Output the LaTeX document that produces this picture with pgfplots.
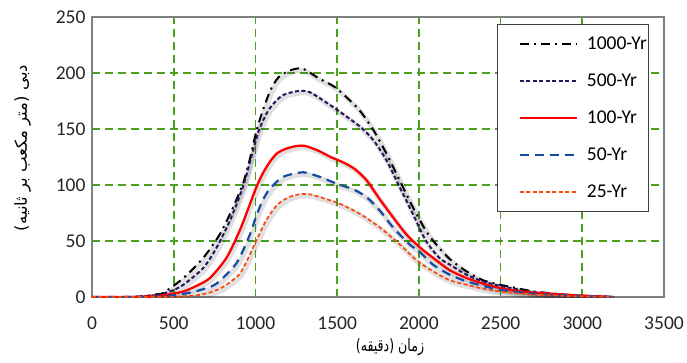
\documentclass[border=0pt]{standalone}
\usepackage{pgfplots}
\pgfplotsset{compat=1.18}
\usepackage{pgfplotstable}
\usepackage{fontspec}
\setmainfont{Carlito}
\newfontfamily\arabicfont[Script=Arabic]{DejaVu Sans}
\newfontfamily\arabicnarrow[Script=Arabic, FakeStretch=0.74]{DejaVu Sans}
\TeXXeTstate=1
\definecolor{gridgreen}{RGB}{75,160,30}
\definecolor{navyp}{RGB}{40,20,95}
\definecolor{blue50}{RGB}{20,75,165}
\definecolor{orng}{RGB}{255,70,10}

\pgfplotstableread{
x y
0 0
200 0
300 0.5
400 2.5
440 4
560 17
681 35
782 56
863 80
923 101
964 122
1004 147
1044 166
1090 184
1140 196
1206 202
1286 204
1390 195
1480 188
1560 178
1641 166
1722 149
1802 128
1883 104
1964 80
2044 59
2100 48
2188 34
2290 23
2392 15
2494 11
2596 8
2698 5
2800 3.5
2902 2
3000 1.2
3106 0.5
3187 0
}\tA

\pgfplotstableread{
x y
0 0
200 0
300 0.3
400 2
480 5
560 11
681 26
762 44
843 68
923 98
984 130
1024 150
1085 168
1165 180
1266 184
1330 183
1399 177
1520 165
1641 152
1722 140
1802 122
1883 98
1964 74
2044 50
2125 35
2188 29
2290 20
2392 14
2494 10
2596 7
2698 4.5
2800 3
2902 1.8
3000 1
3106 0.4
3187 0
}\tB

\pgfplotstableread{
x y
0 0
200 0
300 0.2
400 1
480 2.5
560 5
640 10
722 17
823 35
903 59
964 82
1000 96
1040 109
1085 120
1130 128
1180 132
1240 134.5
1300 135
1379 131
1460 125
1540 120
1610 114
1681 104
1762 87
1843 71
1923 56
2000 45
2086 35
2188 24
2290 17
2392 12
2494 8
2596 5.5
2698 4
2800 3
2902 2
3000 1.2
3100 0.6
3187 0
}\tC

\pgfplotstableread{
x y
0 0
300 0
400 0.5
500 1.5
601 4
680 7
762 12
883 30
964 55
1000 70
1040 85
1085 96
1165 107
1266 111
1310 111
1399 107
1500 101
1601 96
1681 89
1762 77
1843 62
1943 47
2000 41
2086 29
2188 20
2290 14
2392 10
2494 6.5
2596 4.5
2698 3
2800 2
2902 1.3
3000 0.8
3100 0.4
3187 0
}\tD

\pgfplotstableread{
x y
0 0
400 0
500 0.3
641 1.5
720 4
802 9
900 20
950 33
1004 50
1064 68
1120 80
1165 86
1230 90.5
1290 92
1340 91.5
1420 88
1520 83
1641 74
1762 62
1883 47
1984 33
2086 23
2188 15
2290 11
2392 7.5
2494 5
2596 3.5
2698 2
2800 1.5
2902 1
3000 0.6
3187 0
}\tE

\begin{document}
\begin{tikzpicture}
\begin{axis}[
  name=ax,
  scale only axis,
  width=572pt, height=280pt,
  xmin=0, xmax=3500, ymin=0, ymax=250,
  xtick distance=500, ytick distance=50,
  major tick length=0pt,
  grid=major,
  major grid style={gridgreen, line width=1.8pt, dash pattern=on 8pt off 5pt},
  axis line style={gray, line width=1.4pt},
  /pgf/number format/assume math mode=true,
  /pgf/number format/1000 sep={},
  tick label style={font=\fontsize{19.5}{22}\selectfont, text=black!85},
  xticklabel style={yshift=-16pt},
  yticklabel style={xshift=-3pt},
  xlabel={\arabicnarrow\fontsize{17}{19}\selectfont\beginR زمان (دقیقه)\endR},
  xlabel style={yshift=-2pt, xshift=12pt},
  ylabel={\arabicfont\fontsize{16.5}{19}\selectfont\beginR دبی (متر مکعب بر ثانیه)\endR},
  ylabel style={yshift=18pt, xshift=9pt},
  legend style={at={(0.708,0.975)}, anchor=north west, draw=black!75, line width=1.2pt,
    fill=white, font=\fontsize{19.5}{22}\selectfont, row sep=19pt,
    inner xsep=0pt, inner ysep=10pt},
  legend cell align=left,
  legend image code/.code={\path (0pt,0pt) (85pt,0pt); \draw[#1] (21pt,0pt) -- (78pt,0pt);},
  every axis plot/.append style={smooth, tension=0.45},
]
% shadows
\addplot[forget plot, black, opacity=0.12, line width=5pt, transform canvas={xshift=1.5pt,yshift=-2pt}] table {\tA};
\addplot[forget plot, black, opacity=0.12, line width=5pt, transform canvas={xshift=1.5pt,yshift=-2pt}] table {\tB};
\addplot[forget plot, black, opacity=0.12, line width=5pt, transform canvas={xshift=1.5pt,yshift=-2pt}] table {\tC};
\addplot[forget plot, black, opacity=0.12, line width=5pt, transform canvas={xshift=1.5pt,yshift=-2pt}] table {\tD};
\addplot[forget plot, black, opacity=0.12, line width=5pt, transform canvas={xshift=1.5pt,yshift=-2pt}] table {\tE};
% curves
\addplot[black, line width=2pt, dash pattern=on 9pt off 5pt on 2pt off 5pt] table {\tA};
\addlegendentry{1000-Yr}
\addplot[navyp, line width=2pt, dash pattern=on 4pt off 2.5pt] table {\tB};
\addlegendentry{500-Yr}
\addplot[red, line width=2.3pt] table {\tC};
\addlegendentry{100-Yr}
\addplot[blue50, line width=2.2pt, dash pattern=on 9pt off 6pt] table {\tD};
\addlegendentry{50-Yr}
\addplot[orng, line width=1.7pt, dash pattern=on 4pt off 2.5pt] table {\tE};
\addlegendentry{25-Yr}
\end{axis}
\path (ax.south west) ++(-92pt,-65pt) coordinate (bl);
\path (ax.north east) ++(23pt,17pt) coordinate (tr);
\pgfresetboundingbox
\useasboundingbox (bl) rectangle (tr);
\end{tikzpicture}
\end{document}
